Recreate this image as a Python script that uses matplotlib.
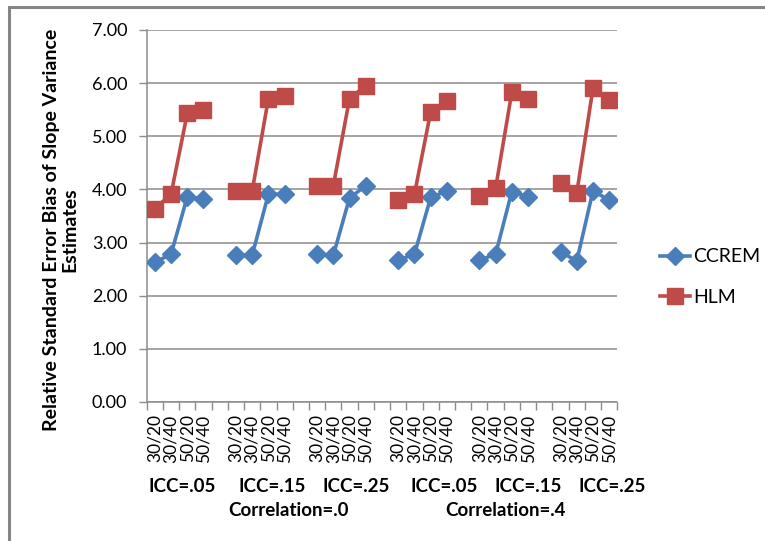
import numpy as np
import matplotlib
matplotlib.use("Agg")
import matplotlib.pyplot as plt
from matplotlib.patches import Rectangle

plt.rcParams['font.family'] = ['Lato', 'DejaVu Sans']

conditions = ["30/20", "30/40", "50/20", "50/40"]
icc_labels = ["ICC=.05", "ICC=.15", "ICC=.25", "ICC=.05", "ICC=.15", "ICC=.25"]
corr_labels = ["Correlation=.0", "Correlation=.4"]

ccrem = [
    [2.63, 2.78, 3.86, 3.82],
    [2.76, 2.76, 3.91, 3.91],
    [2.78, 2.76, 3.84, 4.07],
    [2.67, 2.78, 3.85, 3.97],
    [2.67, 2.78, 3.96, 3.86],
    [2.83, 2.65, 3.97, 3.80],
]
hlm = [
    [3.64, 3.91, 5.43, 5.49],
    [3.97, 3.97, 5.71, 5.75],
    [4.07, 4.07, 5.71, 5.95],
    [3.80, 3.91, 5.46, 5.67],
    [3.88, 4.02, 5.83, 5.70],
    [4.13, 3.93, 5.90, 5.68],
]

def flatten(groups):
    out = []
    for i, g in enumerate(groups):
        out.extend(g)
        if i < len(groups) - 1:
            out.append(np.nan)
    return np.array(out, dtype=float)

y_cc = flatten(ccrem)
y_hlm = flatten(hlm)
xlabels = []
for i in range(len(ccrem)):
    xlabels.extend(conditions)
    if i < len(ccrem) - 1:
        xlabels.append("")
x = np.arange(len(xlabels))

W, H = 765, 541
fig = plt.figure(figsize=(W / 100, H / 100), dpi=100)
fig.patches.append(Rectangle((8.5 / W, -0.1), 1.2, (H - 6.5) / H + 0.1,
                             transform=fig.transFigure, fill=False,
                             edgecolor='#868686', linewidth=2.2))

l, r, t, b = 146.7, 617.3, 30, 402
ax = fig.add_axes([l / W, (H - b) / H, (r - l) / W, (b - t) / H])

blue = '#4A7EBB'
red = '#BE4B48'
ax.plot(x, y_cc, color=blue, lw=2.6, marker='D', markersize=9.5,
        markeredgecolor=blue, label='CCREM', zorder=3)
ax.plot(x, y_hlm, color=red, lw=2.6, marker='s', markersize=11,
        markeredgecolor=red, label='HLM', zorder=3)

ax.set_xlim(-0.5, len(xlabels) - 0.5)
ax.set_ylim(0, 7)
ax.set_yticks(np.arange(0, 8, 1))
ax.set_yticklabels([f"{v:.2f}" for v in np.arange(0, 8, 1)], fontsize=13)
ax.yaxis.grid(True, color='#8c8c8c', linewidth=1.1)
ax.set_axisbelow(True)

ax.set_xticks(x)
ax.set_xticklabels(xlabels, rotation=90, fontsize=12.5, va='top')
ax.tick_params(axis='x', length=0, pad=9)
ax.set_xticks(np.arange(-0.5, len(xlabels), 1), minor=True)
ax.tick_params(axis='x', which='minor', length=6, color='#8c8c8c', width=1)
ax.tick_params(axis='y', length=6, color='#8c8c8c', width=1, pad=8)

for s in ['top', 'right']:
    ax.spines[s].set_visible(False)
for s in ['left', 'bottom']:
    ax.spines[s].set_color('#8c8c8c')
    ax.spines[s].set_linewidth(1.1)

fig.text(61 / W, 1 - 230 / H,
         "Relative Standard Error Bias of Slope Variance\nEstimates",
         rotation=90, ha='center', va='center', multialignment='center',
         fontsize=14, fontweight='bold', linespacing=1.1)

icc_px = [181.7, 271.7, 355.8, 444.0, 528.0, 611.7]
for px, lab in zip(icc_px, icc_labels):
    fig.text(px / W, 1 - 487 / H, lab, ha='center', va='center',
             fontsize=13.5, fontweight='bold')
corr_px = [288.3, 505.8]
for px, lab in zip(corr_px, corr_labels):
    fig.text(px / W, 1 - 511 / H, lab, ha='center', va='center',
             fontsize=13.5, fontweight='bold')

leg = fig.legend(loc='center left', bbox_to_anchor=(660 / W, 1 - 277 / H),
                 frameon=False, fontsize=14, handlelength=1.55,
                 labelspacing=1.2, handletextpad=0.15, borderpad=0,
                 borderaxespad=0)

fig.savefig("out.png", dpi=100)
